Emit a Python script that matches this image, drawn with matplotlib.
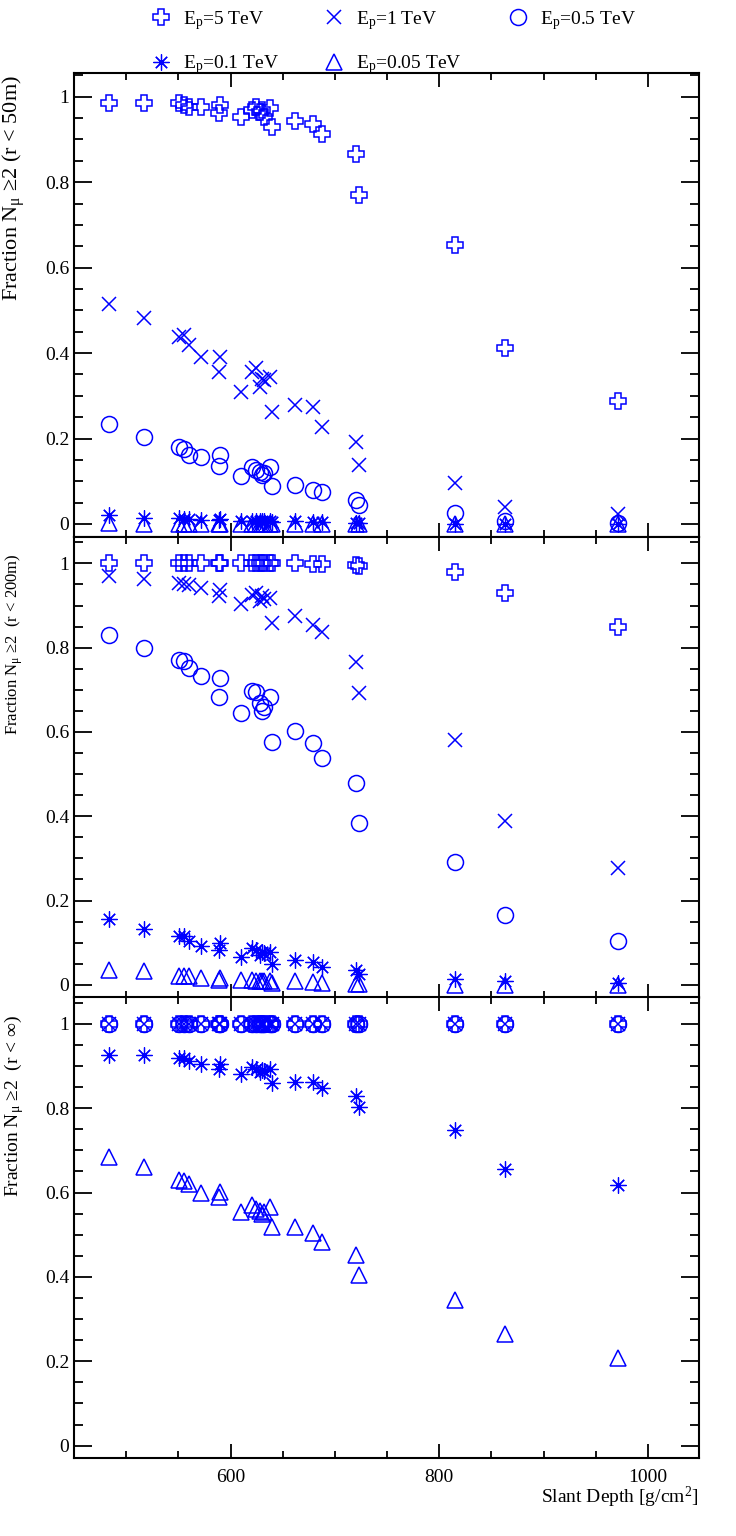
import matplotlib
matplotlib.use("Agg")
import matplotlib.pyplot as plt
from matplotlib.ticker import MultipleLocator

plt.rcParams['font.family'] = ['Liberation Serif', 'DejaVu Serif']
plt.rcParams['mathtext.fontset'] = 'custom'
plt.rcParams['mathtext.rm'] = 'Liberation Serif'
plt.rcParams['mathtext.it'] = 'Liberation Serif:italic'
plt.rcParams['mathtext.bf'] = 'Liberation Serif:bold'

# ---------------- data ----------------
depth = [483.5, 517.0, 551.0, 555.0, 560.0, 572.0, 588.5, 590.0, 610.5,
         621.0, 624.0, 628.2, 630.6, 632.5, 637.8, 640.2, 662.0, 679.0,
         687.5, 720.5, 723.4, 815.3, 863.0, 971.0]

labels = ["E$_{\\mathrm{p}}$=5 TeV", "E$_{\\mathrm{p}}$=1 TeV", "E$_{\\mathrm{p}}$=0.5 TeV",
          "E$_{\\mathrm{p}}$=0.1 TeV", "E$_{\\mathrm{p}}$=0.05 TeV"]

# panel 1: r < 50 m
p1_5tev = [0.985, 0.985, 0.985, 0.980, 0.975, 0.975, 0.963, 0.981, 0.953,
           0.969, 0.977, 0.965, 0.969, 0.953, 0.973, 0.928, 0.943, 0.936,
           0.913, 0.865, 0.770, 0.654, 0.412, 0.288]
p1_1tev = [0.516, 0.481, 0.438, 0.442, 0.418, 0.391, 0.356, 0.391, 0.309,
           0.356, 0.364, 0.321, 0.340, 0.336, 0.344, 0.262, 0.278, 0.274,
           0.227, 0.192, 0.137, 0.096, 0.040, 0.024]
p1_05tev = [0.233, 0.204, 0.180, 0.176, 0.161, 0.157, 0.136, 0.161, 0.112,
            0.133, 0.126, 0.122, 0.114, 0.120, 0.133, 0.088, 0.092, 0.080,
            0.075, 0.055, 0.044, 0.026, 0.008, 0.002]
p1_01tev = [0.020, 0.015, 0.013, 0.012, 0.011, 0.010, 0.009, 0.011, 0.008,
            0.007, 0.007, 0.007, 0.007, 0.006, 0.007, 0.005, 0.007, 0.005,
            0.004, 0.003, 0.002, 0.001, 0.000, 0.000]
p1_005tev = [0.002, 0.001, 0.001, 0.001, 0.001, 0.001, 0.001, 0.001, 0.001,
             0.001, 0.001, 0.001, 0.001, 0.001, 0.001, 0.000, 0.001, 0.000,
             0.000, 0.000, 0.000, 0.000, 0.000, 0.000]

# panel 2: r < 200 m
p2_5tev = [1.000, 1.000, 1.000, 1.000, 1.000, 1.000, 1.000, 1.000, 1.000,
           1.000, 1.000, 1.000, 1.000, 1.000, 1.000, 1.000, 1.000, 0.999,
           0.999, 0.997, 0.995, 0.979, 0.929, 0.849]
p2_1tev = [0.970, 0.964, 0.954, 0.952, 0.948, 0.942, 0.922, 0.938, 0.903,
           0.926, 0.930, 0.910, 0.922, 0.915, 0.918, 0.859, 0.875, 0.855,
           0.837, 0.766, 0.693, 0.580, 0.388, 0.277]
p2_05tev = [0.831, 0.800, 0.770, 0.768, 0.751, 0.732, 0.683, 0.729, 0.645,
            0.698, 0.694, 0.669, 0.649, 0.660, 0.682, 0.576, 0.603, 0.574,
            0.538, 0.479, 0.384, 0.291, 0.165, 0.105]
p2_01tev = [0.157, 0.133, 0.117, 0.115, 0.103, 0.093, 0.083, 0.100, 0.066,
            0.087, 0.083, 0.071, 0.077, 0.075, 0.079, 0.049, 0.059, 0.053,
            0.042, 0.036, 0.026, 0.014, 0.008, 0.004]
p2_005tev = [0.036, 0.033, 0.022, 0.020, 0.020, 0.016, 0.012, 0.015, 0.012,
             0.012, 0.010, 0.009, 0.008, 0.008, 0.010, 0.005, 0.010, 0.006,
             0.005, 0.002, 0.001, 0.000, 0.000, 0.000]

# panel 3: r < infinity
p3_5tev = [1.0] * 24
p3_1tev = [1.0] * 24
p3_05tev = [1.0] * 24
p3_01tev = [0.926, 0.926, 0.918, 0.918, 0.912, 0.906, 0.894, 0.905, 0.882,
            0.898, 0.894, 0.886, 0.890, 0.888, 0.894, 0.859, 0.862, 0.862,
            0.847, 0.829, 0.803, 0.748, 0.657, 0.617]
p3_005tev = [0.684, 0.661, 0.631, 0.627, 0.620, 0.598, 0.590, 0.601, 0.554,
             0.570, 0.562, 0.556, 0.549, 0.553, 0.566, 0.518, 0.518, 0.505,
             0.483, 0.451, 0.404, 0.346, 0.264, 0.208]

panels = [
    [p1_5tev, p1_1tev, p1_05tev, p1_01tev, p1_005tev],
    [p2_5tev, p2_1tev, p2_05tev, p2_01tev, p2_005tev],
    [p3_5tev, p3_1tev, p3_05tev, p3_01tev, p3_005tev],
]
ylabels = ["Fraction N$_{\\mathrm{\u03bc}}$ \u22652 (r < 50m)",
           "Fraction N$_{\\mathrm{\u03bc}}$ \u22652  (r < 200m)",
           "Fraction N$_{\\mathrm{\u03bc}}$ \u22652  (r < \u221e)"]

# ---------------- styles ----------------
BLUE = (0.0, 0.0, 1.0)
styles = [
    dict(marker='P', ms=11.5, mfc='none', mec=BLUE, mew=1.1),
    dict(marker='x', ms=9.5, mec=BLUE, mew=1.1),
    dict(marker='o', ms=11.5, mfc='none', mec=BLUE, mew=1.1),
    dict(marker=(8, 2, 0), ms=11.5, mec=BLUE, mew=0.9),
    dict(marker='^', ms=11.0, mfc='none', mec=BLUE, mew=1.1),
]

W, H = 736, 1536
fig = plt.figure(figsize=(W / 100, H / 100), dpi=100)

# (top px, bottom px, ylim)
geom = [(73.0, 536.7, (-0.0298, 1.0555)),
        (537.3, 998.3, (-0.032, 1.062)),
        (997.3, 1458.3, (-0.030, 1.063))]
label_fs = [16, 12, 14]
label_top = [75, 553, 1015]

L, R = 74.0, 699.0
axes = []
for i, (top, bot, yl) in enumerate(geom):
    ax = fig.add_axes([L / W, 1 - bot / H, (R - L) / W, (bot - top) / H])
    handles = []
    for ser, st, lab in zip(panels[i], styles, labels):
        h, = ax.plot(depth, ser, linestyle='none', label=lab, **st)
        handles.append(h)
    ax.set_xlim(450, 1049)
    ax.set_ylim(*yl)
    ax.xaxis.set_major_locator(MultipleLocator(200))
    ax.xaxis.set_minor_locator(MultipleLocator(50))
    ax.yaxis.set_major_locator(MultipleLocator(0.2))
    ax.yaxis.set_minor_locator(MultipleLocator(0.05))
    ax.yaxis.set_major_formatter(matplotlib.ticker.FuncFormatter(lambda v, p: f"{v:g}"))
    ax.tick_params(axis='both', which='both', direction='in', top=True, right=True,
                   labelsize=14, width=1.3, colors='black')
    ax.tick_params(axis='y', which='major', length=13, pad=3.5)
    ax.tick_params(axis='y', which='minor', length=6.5)
    ax.tick_params(axis='x', which='major', length=10, pad=8)
    ax.tick_params(axis='x', which='minor', length=5)
    for sp in ax.spines.values():
        sp.set_linewidth(1.5)
    if i < 2:
        ax.tick_params(axis='x', labelbottom=False)
    fig.text(14 / W, 1 - label_top[i] / H, ylabels[i], rotation=90, ha='center',
             va='top', fontsize=label_fs[i])
    axes.append((ax, handles))

fig.text(698 / W, 1 - 1497 / H, "Slant Depth [g/cm$^{\\mathrm{2}}$]", ha='right',
         va='center', fontsize=14)

hs = axes[0][1]
order = [0, 3, 1, 4, 2]
fig.legend([hs[k] for k in order], [labels[k] for k in order], ncol=3,
           loc='upper left', bbox_to_anchor=(151.3 / W, 1 - 9 / H), frameon=False,
           fontsize=14, handlelength=1.0, handletextpad=0.63, columnspacing=2.35,
           labelspacing=1.1, borderpad=0, borderaxespad=0)

fig.savefig("out.png", dpi=100)
